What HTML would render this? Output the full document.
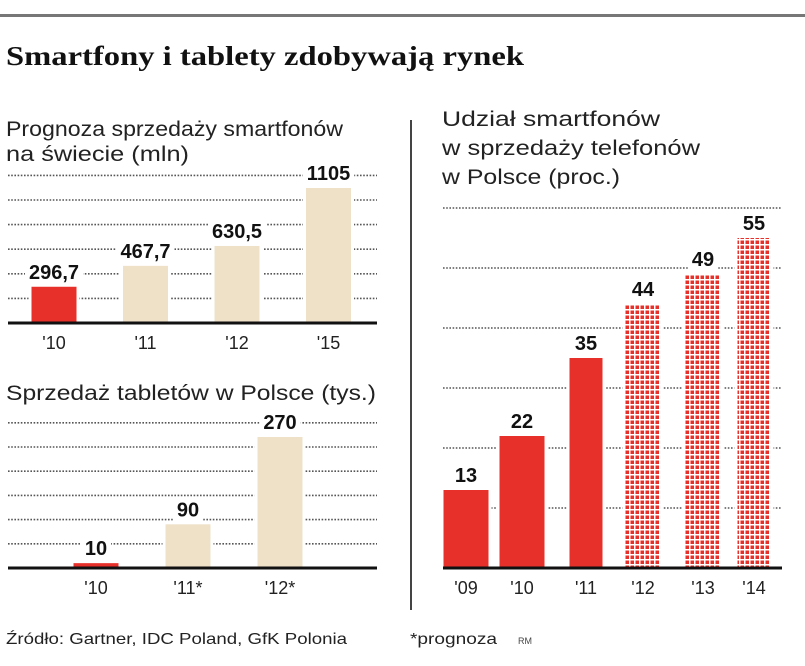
<!DOCTYPE html>
<html><head><meta charset="utf-8">
<style>
html,body{margin:0;padding:0;background:#fff;}
svg{display:block;font-family:"Liberation Sans","DejaVu Sans",sans-serif;}
.t{font-size:21px;fill:#222;}
.v{font-size:20px;font-weight:bold;fill:#111;}
.x{font-size:18px;fill:#222;}
</style></head><body>
<svg width="805" height="666" viewBox="0 0 805 666">
<defs>
<pattern id="dots" width="5" height="5" patternUnits="userSpaceOnUse">
<rect width="5" height="5" fill="#fff"/><rect x="0.5" y="0.5" width="3.5" height="3.5" fill="#e8302a"/>
</pattern>
</defs>
<rect x="0" y="14" width="805" height="3" fill="#777"/>
<text x="6" y="65" textLength="518" lengthAdjust="spacingAndGlyphs" style="font-family:'Liberation Serif','DejaVu Serif',serif;font-weight:bold;font-size:27px" fill="#111">Smartfony i tablety zdobywają rynek</text>
<text class="t" x="6" y="136" textLength="337" lengthAdjust="spacingAndGlyphs">Prognoza sprzedaży smartfonów</text>
<text class="t" x="6" y="161" textLength="183" lengthAdjust="spacingAndGlyphs">na świecie (mln)</text>
<text class="t" x="6" y="400" textLength="370" lengthAdjust="spacingAndGlyphs">Sprzedaż tabletów w Polsce (tys.)</text>
<text class="t" x="442" y="126" textLength="218" lengthAdjust="spacingAndGlyphs">Udział smartfonów</text>
<text class="t" x="442" y="155" textLength="258" lengthAdjust="spacingAndGlyphs">w sprzedaży telefonów</text>
<text class="t" x="442" y="184" textLength="178" lengthAdjust="spacingAndGlyphs">w Polsce (proc.)</text>
<rect x="410" y="120" width="2" height="490" fill="#444"/>
<text x="6" y="644" textLength="341" lengthAdjust="spacingAndGlyphs" style="font-size:16px" fill="#222">Źródło: Gartner, IDC Poland, GfK Polonia</text>
<text x="410" y="644" textLength="87" lengthAdjust="spacingAndGlyphs" style="font-size:16px" fill="#222">*prognoza</text>
<text x="518" y="644" style="font-size:9px" fill="#444">RM</text>
<g id="g1"></g><g id="g2"></g><g id="g3"></g>
</svg>
<script>
// Chart 1: world smartphone sales (mln)
const c1Cats = ["'10","'11","'12","'15"];
const c1Vals = [296.7, 467.7, 630.5, 1105];
const c1Labels = ["296,7","467,7","630,5","1105"];
// Chart 2: tablet sales Poland (tys.)
const c2Cats = ["'10","'11*","'12*"];
const c2Vals = [10, 90, 270];
const c2Labels = ["10","90","270"];
// Chart 3: smartphone share Poland (%)
const c3Cats = ["'09","'10","'11","'12","'13","'14"];
const c3Vals = [13, 22, 35, 44, 49, 55];
const c3Forecast = [false,false,false,true,true,true];

const NS="http://www.w3.org/2000/svg";
function mk(tag, attrs, parent){const e=document.createElementNS(NS,tag);for(const k in attrs)e.setAttribute(k,attrs[k]);parent.appendChild(e);return e;}

function chart(g, o){
  const y = v => o.base - v*o.scale;
  for(let i=0;i<o.grids;i++){
    const gy=o.base-(i+1)*o.gstep;
    const l=mk('line',{x1:o.x0,x2:o.x1,y1:gy,y2:gy,stroke:'#555','stroke-width':1.6,'stroke-dasharray':'1.6 1.6'},g);
    
    
  }
  const texts=[];
  o.cats.forEach((c,i)=>{
    const cx=o.cx(i), w=o.bw(i);
    const top=y(o.vals[i]);
    const bg=mk('rect',{x:cx-w/2-3,y:top,width:w+6,height:o.base-top,fill:'#fff'},g);
    
    
  });
  o.cats.forEach((c,i)=>{
    const cx=o.cx(i), w=o.bw(i);
    const top=y(o.vals[i]);
    const r=mk('rect',{x:cx-w/2,y:top,width:w,height:o.base-top,fill:o.fill(i)},g);
    
    
    const t=mk('text',{x:cx,y:top-8,'text-anchor':'middle',class:'v'},g);
    t.textContent=o.labels[i];
    
    
    texts.push(t);
    const xl=mk('text',{x:cx,y:o.base+26,'text-anchor':'middle',class:'x'},g);
    xl.textContent=c;
    
    
  });
  texts.forEach(t=>{
    const bb=t.getBBox();
    const bg=mk('rect',{x:bb.x-4,y:bb.y,width:bb.width+8,height:bb.height,fill:'#fff'},g);
    
    
    g.appendChild(t);
  });
  const b=mk('rect',{x:o.x0,y:o.base-1.5,width:o.x1-o.x0,height:3,fill:'#111'},g);
  
  
}
chart(document.getElementById('g1'),{cats:c1Cats,vals:c1Vals,labels:c1Labels,base:323,scale:135/1105,
  grids:6,gstep:24.6,x0:8,x1:377,cx:i=>54+i*91.5,bw:()=>45,fill:i=>i===0?'#e8302a':'#efe0c8'});
chart(document.getElementById('g2'),{cats:c2Cats,vals:c2Vals,labels:c2Labels,base:568,scale:131/270,
  grids:6,gstep:24.2,x0:8,x1:377,cx:i=>96+i*92,bw:()=>45,fill:i=>i===0?'#e8302a':'#efe0c8'});
chart(document.getElementById('g3'),{cats:c3Cats,vals:c3Vals,labels:c3Vals.map(String),base:568,scale:6,
  grids:6,gstep:60,x0:443,x1:782,cx:i=>[466,522,586,643,703,754][i],bw:i=>[45,45,33,35,35,33][i],
  fill:i=>c3Forecast[i]?'url(#dots)':'#e8302a'});
</script>
</body></html>
